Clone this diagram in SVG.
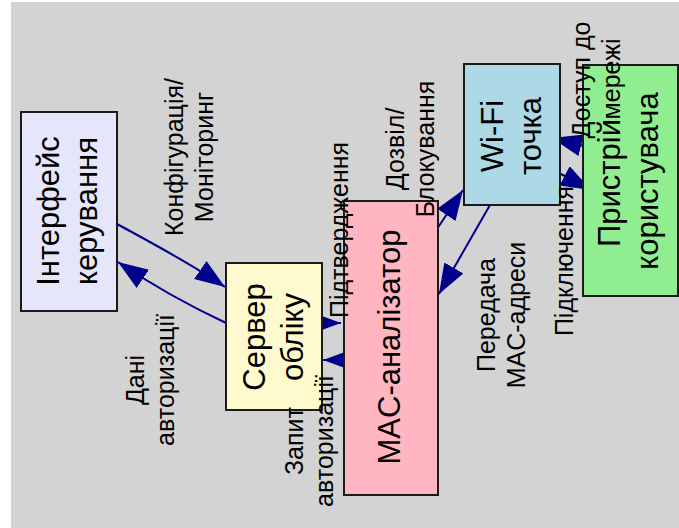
<svg xmlns="http://www.w3.org/2000/svg" width="679" height="528" viewBox="0 0 679 528">
<style>
.bg{fill:#d3d3d3}
.node rect{stroke:#1a1a1a;stroke-width:2}
.nt{font-family:"Liberation Sans",Arial,sans-serif;font-size:31px;text-anchor:middle;fill:#000}
.et{font-family:"Liberation Sans",Arial,sans-serif;font-size:25px;text-anchor:middle;fill:#000}
.edge{fill:none;stroke:#00008b;stroke-width:2;marker-end:url(#ah)}
</style>
<defs>
<marker id="ah" viewBox="0 0 30 22" refX="30" refY="11" markerWidth="30" markerHeight="22" orient="auto" markerUnits="userSpaceOnUse">
<path d="M0,0 L30,11 L0,22 z" fill="#00008b"/>
</marker>
</defs>
<rect x="0" y="0" width="679" height="528" fill="#fff"/>
<rect class="bg" x="11" y="2" width="668" height="526"/>

<g id="edges">
<path class="edge" d="M117,224 C150,242 190,263 225,287"/>
<path class="edge" d="M226,323 C190,306 152,285 118,262"/>
<path class="edge" d="M310,323 L341,323"/>
<path class="edge" d="M355,360 L323,360"/>
<path class="edge" d="M437,229 L463,190"/>
<path class="edge" d="M490,205 L439,294"/>
<path class="edge" d="M584,146 L552,138"/>
<path class="edge" d="M561,174 L591,190"/>
</g>

<g id="n_iface" class="node">
<rect x="21" y="112" width="96" height="199" fill="#e6e6fa"/>
<text class="nt" transform="translate(59,211) rotate(-90)">Інтерфейс</text>
<text class="nt" transform="translate(97,211) rotate(-90)">керування</text>
</g>
<g id="n_server" class="node">
<rect x="226" y="263" width="96" height="147" fill="#fffacd"/>
<text class="nt" transform="translate(265,337) rotate(-90)">Сервер</text>
<text class="nt" transform="translate(303,337) rotate(-90)">обліку</text>
</g>
<g id="n_mac" class="node">
<rect x="344" y="201" width="94" height="294" fill="#ffb6c1"/>
<text class="nt" transform="translate(400,347) rotate(-90)">MAC-аналізатор</text>
</g>
<g id="n_wifi" class="node">
<rect x="464" y="64" width="96" height="141" fill="#add8e6"/>
<text class="nt" transform="translate(503,136) rotate(-90)">Wi-Fi</text>
<text class="nt" transform="translate(541,136) rotate(-90)">точка</text>
</g>
<g id="n_device" class="node">
<rect x="583" y="65" width="95" height="231" fill="#90ee90"/>
<text class="nt" transform="translate(620,183) rotate(-90)">Пристрій</text>
<text class="nt" transform="translate(658,181) rotate(-90)">користувача</text>
</g>

<g id="labels">
<text class="et" transform="translate(183,157) rotate(-90)">Конфігурація/</text>
<text class="et" transform="translate(213,157) rotate(-90)">Моніторинг</text>
<text class="et" transform="translate(144,380) rotate(-90)">Дані</text>
<text class="et" transform="translate(174,380) rotate(-90)">авторизації</text>
<text class="et" transform="translate(348,230) rotate(-90)">Підтвердження</text>
<text class="et" transform="translate(303,441) rotate(-90)">Запит</text>
<text class="et" transform="translate(333,441) rotate(-90)">авторизації</text>
<text class="et" transform="translate(404,149) rotate(-90)">Дозвіл/</text>
<text class="et" transform="translate(434,149) rotate(-90)">Блокування</text>
<text class="et" transform="translate(495,315) rotate(-90)">Передача</text>
<text class="et" transform="translate(525,315) rotate(-90)">MAC-адреси</text>
<text class="et" transform="translate(573,261) rotate(-90)">Підключення</text>
<text class="et" transform="translate(590,80) rotate(-90)">Доступ до</text>
<text class="et" transform="translate(620,79) rotate(-90)">мережі</text>
</g>
</svg>
